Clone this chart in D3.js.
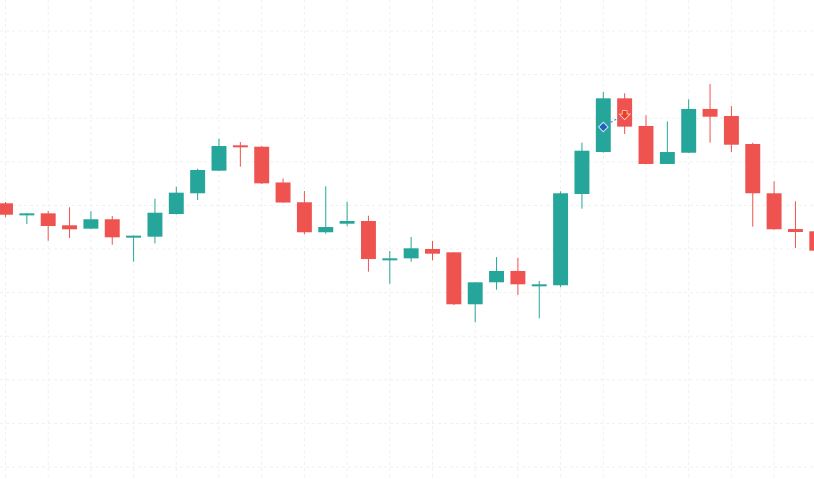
<!DOCTYPE html>
<html lang="en">

<head>
    <meta charset="UTF-8">
    <title>Candlestick</title>
    <script src="https://d3js.org/d3.v7.min.js"></script>
    <style>
        html, body { margin: 0; padding: 0; background: #fff; overflow: hidden; }
    </style>
</head>

<body>
    <script>
        // trading days
        const dates = [
            "2023-10-02", "2023-10-03", "2023-10-04", "2023-10-05", "2023-10-06",
            "2023-10-09", "2023-10-10", "2023-10-11", "2023-10-12", "2023-10-13",
            "2023-10-16", "2023-10-17", "2023-10-18", "2023-10-19", "2023-10-20",
            "2023-10-23", "2023-10-24", "2023-10-25", "2023-10-26", "2023-10-27",
            "2023-10-30", "2023-10-31", "2023-11-01", "2023-11-02", "2023-11-03",
            "2023-11-06", "2023-11-07", "2023-11-08", "2023-11-09", "2023-11-10",
            "2023-11-13", "2023-11-14", "2023-11-15", "2023-11-16", "2023-11-17",
            "2023-11-20", "2023-11-21", "2023-11-22", "2023-11-23"
        ];

        const open = [
            100.24, 98.90, 99.09, 97.72, 97.33, 98.41, 96.30, 96.41, 99.01, 101.39,
            103.98, 106.89, 106.73, 102.63, 100.36, 96.92, 97.90, 98.21, 93.70, 93.93,
            95.00, 94.62, 88.66, 91.18, 92.48, 90.79, 90.84, 101.31, 106.12, 112.28,
            109.11, 104.75, 106.04, 111.06, 110.25, 107.04, 101.39, 97.29, 97.03
        ];
        const high = [
            100.39, 99.09, 99.36, 99.78, 99.32, 98.78, 96.53, 100.77, 102.14, 104.21,
            107.65, 107.27, 106.80, 103.08, 101.65, 102.19, 100.42, 98.82, 94.77, 96.38,
            95.92, 94.62, 91.18, 94.08, 94.00, 91.33, 101.62, 107.19, 113.00, 112.86,
            110.33, 109.64, 112.17, 113.92, 111.40, 107.19, 102.76, 100.47, 97.20
        ];
        const low = [
            98.64, 97.87, 95.95, 96.26, 97.30, 95.49, 93.54, 95.65, 98.95, 100.62,
            103.95, 104.44, 102.45, 100.30, 96.69, 96.75, 97.60, 92.40, 91.02, 93.54,
            93.70, 88.58, 86.59, 90.33, 89.72, 87.05, 90.61, 99.62, 106.05, 108.19,
            104.72, 104.72, 106.00, 107.19, 106.12, 97.56, 97.23, 95.11, 94.70
        ];
        const close = [
            98.93, 99.09, 97.64, 97.26, 98.41, 96.34, 96.53, 99.16, 101.46, 104.06,
            106.81, 106.66, 102.53, 100.33, 96.92, 97.52, 98.21, 93.85, 93.93, 95.08,
            94.46, 88.66, 91.18, 92.48, 90.95, 90.95, 101.39, 106.27, 112.28, 109.03,
            104.75, 106.12, 111.06, 110.17, 106.96, 101.39, 97.26, 96.95, 94.81
        ];

        // drawing annotation: start (diamond) and end (arrow) points
        const annoDates = ["2023-11-09", "2023-11-10"];
        const annoPrices = [108.99, 110.30];

        const w = 814;
        const h = 479;

        const candles = dates.map((d, i) => ({
            date: d, open: open[i], high: high[i], low: low[i], close: close[i]
        }));

        const svg = d3.select("body")
            .append("svg")
            .attr("width", w)
            .attr("height", h);

        // scales
        const xScale = d3.scalePoint()
            .domain(dates)
            .range([5.5, 5.5 + 21.35 * (dates.length - 1)]);

        const yScale = d3.scaleLinear()
            .domain([70, 120])
            .range([467, 31]);

        const bodyW = xScale.step() * 0.7;

        // grid
        const grid = svg.append("g").attr("class", "grid");

        grid.selectAll("line.v")
            .data(dates.filter((d, i) => i % 2 === 0))
            .enter()
            .append("line")
            .attr("class", "v")
            .attr("x1", d => xScale(d))
            .attr("x2", d => xScale(d))
            .attr("y1", 0)
            .attr("y2", h)
            .attr("stroke", "#f0f0f0")
            .attr("stroke-dasharray", "3,3");

        grid.selectAll("line.h")
            .data(d3.range(70, 121, 5))
            .enter()
            .append("line")
            .attr("class", "h")
            .attr("x1", 0)
            .attr("x2", w)
            .attr("y1", d => yScale(d))
            .attr("y2", d => yScale(d))
            .attr("stroke", "#f0f0f0")
            .attr("stroke-dasharray", "3,3");

        const up = "#26a69a";
        const down = "#ef5350";
        const col = d => d.close >= d.open ? up : down;

        // wicks
        svg.append("g").selectAll("line")
            .data(candles)
            .enter()
            .append("line")
            .attr("x1", d => xScale(d.date))
            .attr("x2", d => xScale(d.date))
            .attr("y1", d => yScale(d.high))
            .attr("y2", d => yScale(d.low))
            .attr("stroke", col)
            .attr("stroke-width", 1);

        // bodies
        svg.append("g").selectAll("rect")
            .data(candles)
            .enter()
            .append("rect")
            .attr("x", d => xScale(d.date) - bodyW / 2)
            .attr("y", d => yScale(Math.max(d.open, d.close)))
            .attr("width", bodyW)
            .attr("height", d => Math.max(2, Math.abs(yScale(d.open) - yScale(d.close))))
            .attr("fill", col);

        // annotation
        const ax0 = xScale(annoDates[0]), ay0 = yScale(annoPrices[0]);
        const ax1 = xScale(annoDates[1]), ay1 = yScale(annoPrices[1]);
        const anno = svg.append("g");

        anno.append("line")
            .attr("x1", ax0 + 4)
            .attr("y1", ay0 - 3)
            .attr("x2", ax1 - 5)
            .attr("y2", ay1 + 2)
            .attr("stroke", "#4a86d8")
            .attr("stroke-width", 1.2)
            .attr("stroke-dasharray", "2,2");

        // diamond
        anno.append("path")
            .attr("d", "M0,-4 L4,0 L0,4 L-4,0 Z")
            .attr("transform", "translate(" + ax0 + "," + ay0 + ")")
            .attr("fill", "#1f5fbf")
            .attr("stroke", "rgba(220,235,255,0.9)")
            .attr("stroke-width", 2)
            .attr("paint-order", "stroke");

        // down arrow
        anno.append("path")
            .attr("d", "M-2,-4.5 L2,-4.5 L2,-1 L4.5,-1 L0,3.5 L-4.5,-1 L-2,-1 Z")
            .attr("transform", "translate(" + ax1 + "," + ay1 + ")")
            .attr("fill", "#e8401c")
            .attr("stroke", "rgba(255,230,220,0.9)")
            .attr("stroke-width", 1.5)
            .attr("paint-order", "stroke");
    </script>
</body>

</html>
